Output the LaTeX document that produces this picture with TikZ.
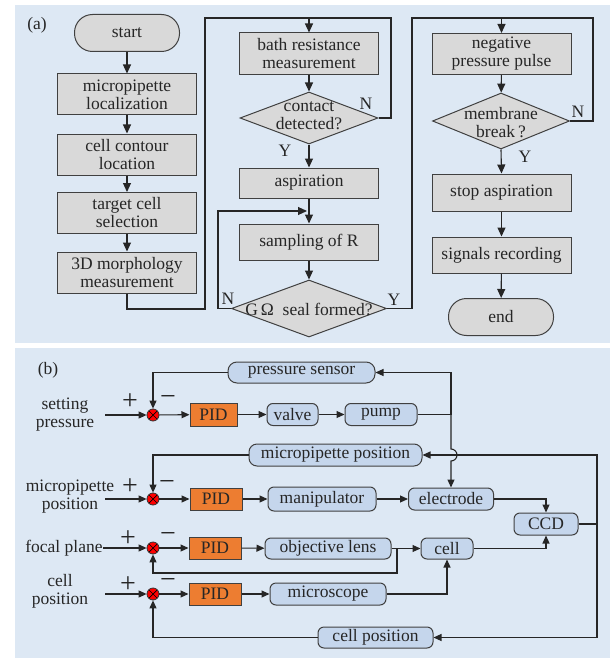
\documentclass[tikz,border=0pt]{standalone}
\usepackage{fontspec}
\setmainfont{Liberation Serif}
\usetikzlibrary{shapes.geometric,arrows.meta,calc}
\definecolor{bgblue}{HTML}{DDE8F4}
\definecolor{bluebox}{HTML}{C5D6EC}
\definecolor{pidorange}{HTML}{ED7D31}
\definecolor{graybox}{HTML}{D9D9D9}
\definecolor{lncol}{HTML}{262626}
\begin{document}
\begin{tikzpicture}[x=1pt,y=-1pt,
  every node/.style={font=\fontsize{17.5}{18}\selectfont, text=black!85},
  ln/.style={draw=lncol, line width=1.1pt},
  arr/.style={ln, -{Triangle[length=9pt,width=8pt]}},
  barr/.style={ln, -{Triangle[length=8pt,width=7pt]}},
  gbox/.style={draw=black!75, fill=graybox, line width=1pt, minimum width=139pt, inner sep=0pt, align=center},
  term/.style={gbox, minimum width=105pt, minimum height=37pt, rounded corners=18pt},
  dec/.style={diamond, draw=black!75, fill=graybox, line width=1pt, inner sep=0pt},
  bbox/.style={draw=black!75, fill=bluebox, line width=1pt, rounded corners=6pt, inner sep=0pt, minimum height=22pt},
  pid/.style={draw=black!75, fill=pidorange, line width=1pt, inner sep=0pt, minimum height=22pt},
  sj/.style={circle, draw=black!80, fill=red, minimum size=12pt, inner sep=0pt, line width=0.8pt,
    path picture={\draw[black, line width=0.7pt] (path picture bounding box.center) +(-4,-4) -- +(4,4)
      (path picture bounding box.center) +(-4,4) -- +(4,-4);}},
  lbl/.style={inner sep=0pt, align=center},
  sgn/.style={inner sep=0pt, font=\fontsize{28}{28}\selectfont}
]
\path[use as bounding box] (0,0) rectangle (610,658);
\fill[bgblue] (15,5) rectangle (610,343);
\fill[bgblue] (15,348) rectangle (610,658);

% ---------------- panel (a)
\node[lbl] (la) at (37,25) {(a)};
\node[term] (start) at (127,33) {start};
\node[gbox, minimum height=41pt] (m1) at (127,94.5) {micropipette\\localization};
\node[gbox, minimum height=41pt] (m2) at (127,154.5) {cell contour\\location};
\node[gbox, minimum height=41pt] (m3) at (127,213) {target cell\\selection};
\node[gbox, minimum height=41pt] (m4) at (127,272.5) {3D morphology\\measurement};

\node[gbox, minimum height=42pt] (b1) at (309,54) {bath resistance\\measurement};
\node[dec, minimum width=138pt, minimum height=52pt] (d1) at (309,118) {};
\node[lbl] (d1t) at (309,116) {contact\\detected?};
\node[gbox, minimum height=30pt] (asp) at (309,183) {aspiration};
\node[gbox, minimum height=36pt] (sam) at (309,242) {sampling of R};
\node[dec, minimum width=155pt, minimum height=57pt] (d2) at (309,308.5) {};
\node[lbl] (d2t) at (309,309) {G\,Ω\ \ seal formed?};

\node[gbox, minimum height=41pt] (npp) at (501.5,54) {negative\\pressure pulse};
\node[dec, minimum width=137pt, minimum height=56pt] (d3) at (501,121) {};
\node[lbl] (d3t) at (501,123) {membrane\\break\,?};
\node[gbox, minimum height=37pt] (stop) at (501.5,192.5) {stop aspiration};
\node[gbox, minimum height=36pt] (sig) at (501.5,255) {signals recording};
\node[term] (end) at (501,317) {end};

\draw[arr] (start) -- (m1);
\draw[arr] (m1) -- (m2);
\draw[arr] (m2) -- (m3);
\draw[arr] (m3) -- (m4);
\draw[ln] (m4.south) -- (127,309) -| (205,18) -- (309,18);
\draw[arr] (309,18) -- (b1.north);
\draw[arr] (b1) -- (d1);
\draw[ln] (d1.east) -| (391,18) -- (309,18);
\draw[arr] (d1.south) -- (asp.north);
\draw[arr] (asp.south) -- (sam.north);
\draw[arr] (sam.south) -- (d2.north);
\draw[arr] (d2.west) -- (218,308.5) -- (218,211) -- (307,211);
\draw[ln] (d2.east) -- (412,308.5) -- (412,18) -- (501.5,18);
\draw[arr] (501.5,18) -- (npp.north);
\draw[arr] (npp) -- (d3);
\draw[ln] (d3.east) -| (593,18) -- (501.5,18);
\draw[arr] (d3.south) -- (stop.north);
\draw[arr] (stop) -- (sig);
\draw[arr] (sig) -- (end);

\node[lbl] (n1) at (366,104) {N};
\node[lbl] (y1) at (285,151) {Y};
\node[lbl] (n2) at (228,299) {N};
\node[lbl] (y2) at (394,300) {Y};
\node[lbl] (n3) at (578,112) {N};
\node[lbl] (y3) at (525,157) {Y};

% ---------------- panel (b)
\node[lbl] (lb) at (48,370) {(b)};
\node[lbl] (in1) at (65,415) {setting\\pressure};
\node[lbl] (in2) at (70,497) {micropipette\\position};
\node[lbl] (in3) at (64,548) {focal plane};
\node[lbl] (in4) at (60,591) {cell\\position};

\node[sj] (j1) at (153,415) {};
\node[sj] (j2) at (153,499) {};
\node[sj] (j3) at (153,548) {};
\node[sj] (j4) at (153,594) {};

\node[sgn] (pl1) at (130,402) {+};
\node[sgn] (mi1) at (168,400) {−};
\node[sgn] (pl2) at (130,487) {+};
\node[sgn] (mi2) at (167,485) {−};
\node[sgn] (pl3) at (128,539) {+};
\node[sgn] (mi3) at (168,537) {−};
\node[sgn] (pl4) at (128,585) {+};
\node[sgn] (mi4) at (168,583) {−};

\node[pid, minimum width=47pt, minimum height=23pt] (p1) at (213.5,414.5) {PID};
\node[pid, minimum width=52pt] (p2) at (216,499) {PID};
\node[pid, minimum width=52pt] (p3) at (215,548) {PID};
\node[pid, minimum width=52pt] (p4) at (215,594) {PID};

\node[bbox, minimum width=51pt] (valve) at (292.5,414.5) {valve};
\node[bbox, minimum width=72pt] (pump) at (381,414.5) {pump};
\node[bbox, minimum width=147pt, minimum height=21pt, rounded corners=9pt] (ps) at (301.5,372.5) {pressure sensor};
\node[bbox, minimum width=173pt, rounded corners=8pt] (mp) at (335.5,455) {micropipette position};
\node[bbox, minimum width=108pt, minimum height=24pt] (man) at (322,499) {manipulator};
\node[bbox, minimum width=85pt] (el) at (451,499) {electrode};
\node[bbox, minimum width=64pt] (ccd) at (546,524) {CCD};
\node[bbox, minimum width=126pt, minimum height=21pt] (obj) at (328,548.5) {objective lens};
\node[bbox, minimum width=52pt, minimum height=21pt] (cell) at (447,548.5) {cell};
\node[bbox, minimum width=116pt] (mic) at (328,594) {microscope};
\node[bbox, minimum width=115pt, minimum height=21pt] (cp) at (375.5,637.5) {cell position};

% inputs
\draw[barr] (105,415) -- (j1.west);
\draw[barr] (105,499) -- (j2.west);
\draw[barr] (in3.east) -- (j3.west);
\draw[barr] (105,594) -- (j4.west);
% forward path
\draw[barr] (j1) -- (p1);
\draw[barr] (j2) -- (p2);
\draw[barr] (j3) -- (p3);
\draw[barr] (j4) -- (p4);
\draw[barr] (p1) -- (valve);
\draw[barr] (valve) -- (pump);
\draw[barr] (p2) -- (man);
\draw[barr] (man) -- (el);
\draw[barr] (p3) -- (obj);
\draw[barr] (obj) -- (cell);
\draw[barr] (p4) -- (mic);
\draw[barr] (mic.east) -| (cell.south);
\draw[barr] (el.east) -| (ccd.north);
\draw[barr] (cell.east) -| (ccd.south);
% pressure loop
\draw[ln] (pump.east) -- (451,414.5);
\draw[barr] (451,414.5) |- (ps.east);
\draw[barr] (451,414.5) -- (451,449) arc[start angle=-90, end angle=90, radius=6] -- (el.north);
\draw[barr] (ps.west) -| (j1.north);
% CCD feedback
\draw[ln] (ccd.east) -- (597,524);
\draw[barr] (597,524) |- (mp.east);
\draw[barr] (597,524) |- (cp.east);
\draw[barr] (mp.west) -| (j2.north);
\draw[barr] (cp.west) -| (j4.south);
% objective lens feedback
\draw[barr] (397,548.5) -- (397,573) -| (j3.south);
\end{tikzpicture}
\end{document}
